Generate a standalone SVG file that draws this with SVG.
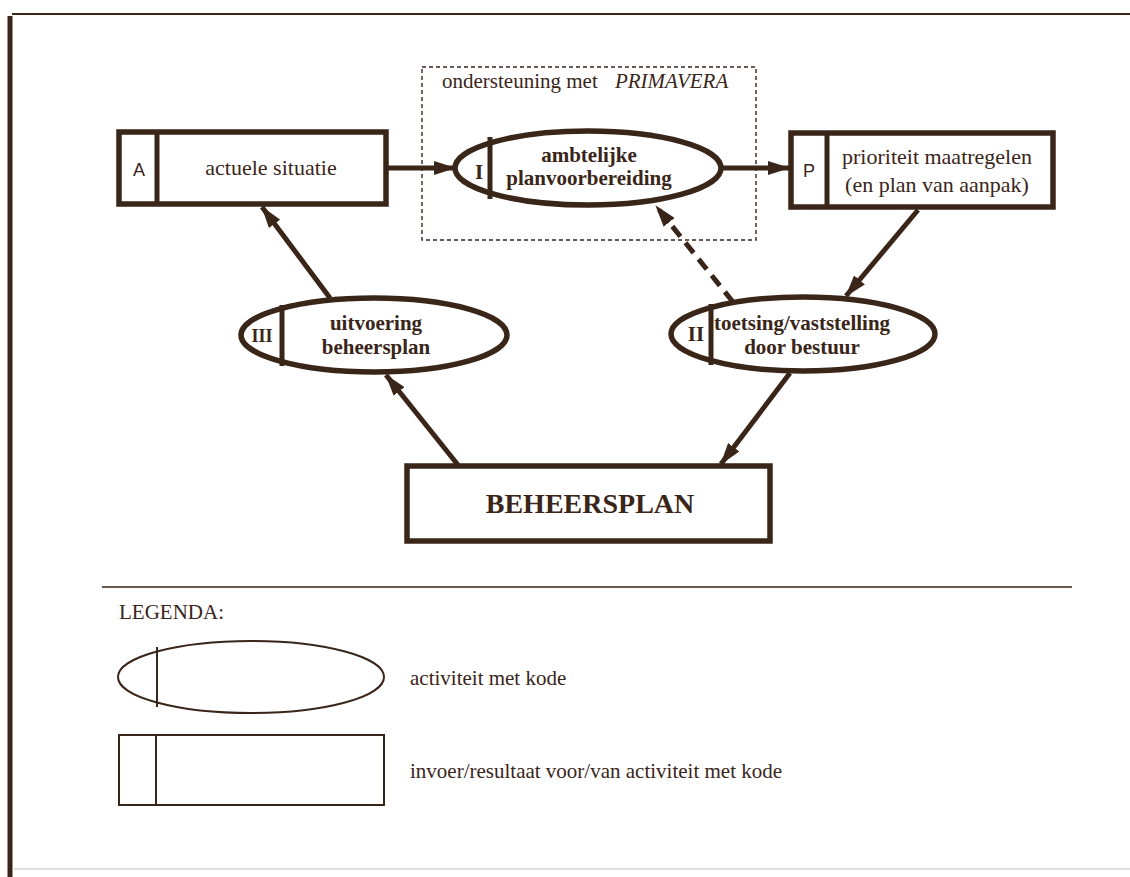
<svg xmlns="http://www.w3.org/2000/svg" width="1130" height="877" viewBox="0 0 1130 877">
  <defs>
    <marker id="head" viewBox="0 0 22 14" refX="21" refY="7" markerWidth="22" markerHeight="14" markerUnits="userSpaceOnUse" orient="auto">
      <path d="M0,0 L22,7 L0,14 Z" fill="#3a2519"/>
    </marker>
  </defs>
  <style>
    .node { fill: #ffffff; stroke: #3a2519; stroke-width: 5.5; }
    .div { stroke: #3a2519; stroke-width: 5; }
    .thin { fill: #ffffff; stroke: #3a2519; stroke-width: 2; }
    .edge { stroke: #3a2519; stroke-width: 5; fill: none; marker-end: url(#head); }
    .dash { stroke-dasharray: 13 8; }
    .lbl { font-family: "Liberation Serif", "DejaVu Serif", serif; font-size: 22px; fill: #3a2519; text-anchor: middle; }
    .b { font-weight: bold; font-size: 21px; }
    .big { font-size: 28px; }
    .roman { font-size: 18px; }
    .code { font-family: "Liberation Sans", Arial, sans-serif; font-size: 18px; fill: #3a2519; text-anchor: middle; }
    .leg { font-family: "Liberation Serif", "DejaVu Serif", serif; font-size: 21px; fill: #3a2519; }
  </style>
  <rect width="1130" height="877" fill="#ffffff"/>

  <!-- page frame -->
  <line x1="12" y1="14" x2="1130" y2="14" stroke="#3a2519" stroke-width="2"/>
  <line x1="10" y1="16" x2="10" y2="877" stroke="#3a2519" stroke-width="5"/>
  <line x1="14" y1="869" x2="1130" y2="869" stroke="#d8d2cc" stroke-width="1.5"/>

  <!-- support area -->
  <g id="primavera">
    <rect x="422" y="67" width="334" height="173" fill="none" stroke="#3a2519" stroke-width="1.4" stroke-dasharray="4 3"/>
    <text x="442" y="88" class="leg">ondersteuning met <tspan font-style="italic" dx="12">PRIMAVERA</tspan></text>
  </g>

  <!-- connectors -->
  <g id="connectors">
    <line class="edge" x1="388" y1="168" x2="455" y2="168"/>
    <line class="edge" x1="721" y1="168" x2="789" y2="168"/>
    <line class="edge" x1="918" y1="210" x2="846" y2="296"/>
    <line class="edge dash" x1="733" y1="302" x2="656" y2="206"/>
    <line class="edge" x1="330" y1="298" x2="262" y2="207"/>
    <line class="edge" x1="790" y1="373" x2="721" y2="464"/>
    <line class="edge" x1="458" y1="465" x2="386" y2="375"/>
  </g>

  <g id="node-A">
    <rect class="node" x="119" y="132" width="267" height="72"/>
    <line class="div" x1="157" y1="132" x2="157" y2="204"/>
    <text class="code" x="139" y="176">A</text>
    <text class="lbl" x="271" y="175">actuele situatie</text>
  </g>

  <g id="node-I">
    <ellipse class="node" cx="588" cy="168" rx="133" ry="37"/>
    <line class="div" x1="490" y1="137" x2="490" y2="199"/>
    <text class="lbl b" x="479" y="179">I</text>
    <text class="lbl b" x="589" y="162">ambtelijke</text>
    <text class="lbl b" x="589" y="185">planvoorbereiding</text>
  </g>

  <g id="node-P">
    <rect class="node" x="791" y="133" width="262" height="74"/>
    <line class="div" x1="827" y1="133" x2="827" y2="207"/>
    <text class="code" x="809" y="177">P</text>
    <text class="lbl" x="937" y="164">prioriteit maatregelen</text>
    <text class="lbl" x="937" y="192">(en plan van aanpak)</text>
  </g>

  <g id="node-III">
    <ellipse class="node" cx="374" cy="335" rx="133" ry="37"/>
    <line class="div" x1="282" y1="305" x2="282" y2="366"/>
    <text class="lbl b roman" x="262" y="342">III</text>
    <text class="lbl b" x="376" y="330">uitvoering</text>
    <text class="lbl b" x="376" y="354">beheersplan</text>
  </g>

  <g id="node-II">
    <ellipse class="node" cx="803" cy="334" rx="132" ry="37"/>
    <line class="div" x1="711" y1="304" x2="711" y2="365"/>
    <text class="lbl b" x="696" y="341">II</text>
    <text class="lbl b" x="802" y="330">toetsing/vaststelling</text>
    <text class="lbl b" x="802" y="354">door bestuur</text>
  </g>

  <g id="node-beheersplan">
    <rect class="node" x="407" y="466" width="363" height="75"/>
    <text class="lbl b big" x="590" y="513">BEHEERSPLAN</text>
  </g>

  <!-- legend -->
  <g id="legend">
    <line x1="102" y1="587" x2="1072" y2="587" stroke="#3a2519" stroke-width="1.5"/>
    <text class="leg" x="119" y="619">LEGENDA:</text>
    <ellipse class="thin" cx="251" cy="677" rx="133" ry="36"/>
    <line x1="157" y1="647" x2="157" y2="707" stroke="#3a2519" stroke-width="2"/>
    <text class="leg" x="410" y="685">activiteit met kode</text>
    <rect class="thin" x="119" y="735" width="265" height="70"/>
    <line x1="156" y1="735" x2="156" y2="805" stroke="#3a2519" stroke-width="2"/>
    <text class="leg" x="410" y="778">invoer/resultaat voor/van activiteit met kode</text>
  </g>
</svg>
